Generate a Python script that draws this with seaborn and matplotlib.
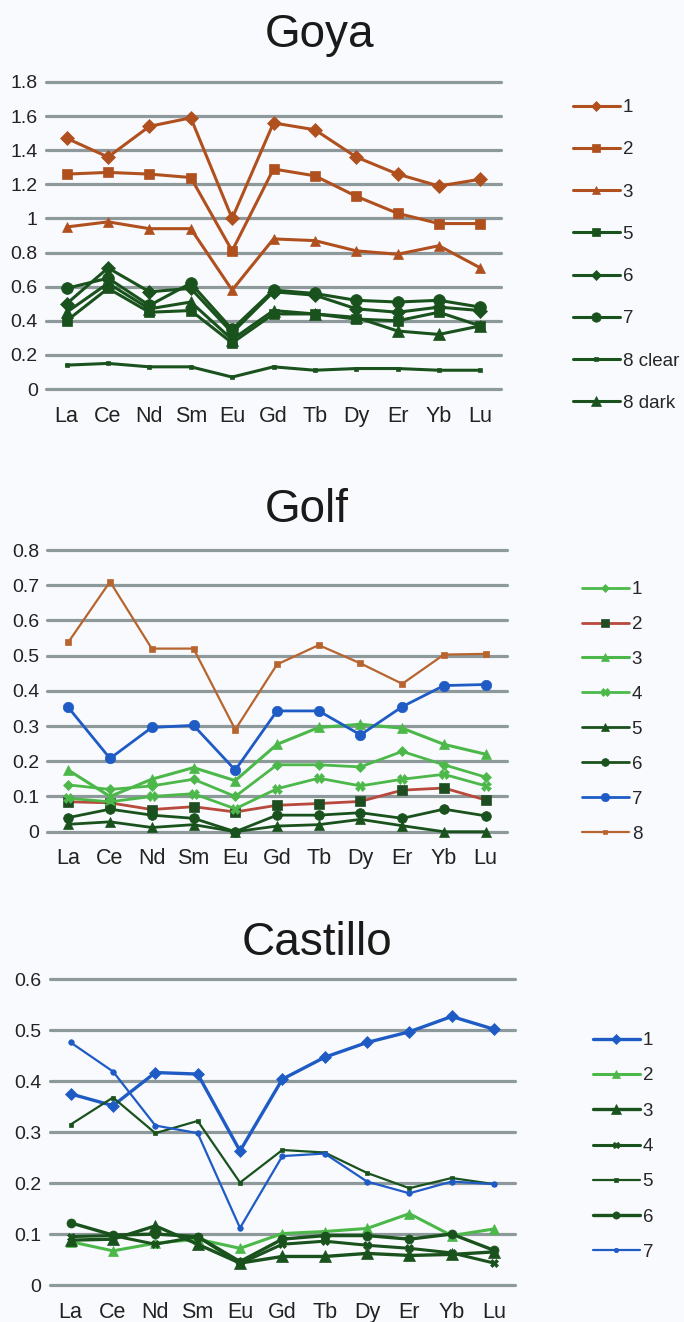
import numpy as np
import pandas as pd
import matplotlib
matplotlib.use("Agg")
import matplotlib.pyplot as plt
import seaborn as sns

sns.set_theme(style="white")
plt.rcParams["font.family"] = ["Liberation Sans", "DejaVu Sans"]

# Rare earth elements on the x axis
elements = ["La", "Ce", "Nd", "Sm", "Eu", "Gd", "Tb", "Dy", "Er", "Yb", "Lu"]

# ---- Goya ----
goya_labels = ["1", "2", "3", "5", "6", "7", "8 clear", "8 dark"]
goya_1 = [1.47, 1.36, 1.54, 1.59, 1.00, 1.56, 1.52, 1.36, 1.26, 1.19, 1.23]
goya_2 = [1.26, 1.27, 1.26, 1.24, 0.81, 1.29, 1.25, 1.13, 1.03, 0.97, 0.97]
goya_3 = [0.95, 0.98, 0.94, 0.94, 0.58, 0.88, 0.87, 0.81, 0.79, 0.84, 0.71]
goya_5 = [0.40, 0.59, 0.45, 0.46, 0.27, 0.44, 0.44, 0.41, 0.40, 0.45, 0.37]
goya_6 = [0.50, 0.71, 0.57, 0.59, 0.33, 0.57, 0.55, 0.47, 0.45, 0.48, 0.46]
goya_7 = [0.59, 0.65, 0.49, 0.62, 0.35, 0.58, 0.56, 0.52, 0.51, 0.52, 0.48]
goya_8c = [0.14, 0.15, 0.13, 0.13, 0.07, 0.13, 0.11, 0.12, 0.12, 0.11, 0.11]
goya_8d = [0.45, 0.62, 0.47, 0.51, 0.29, 0.46, 0.44, 0.42, 0.34, 0.32, 0.37]

# ---- Golf ----
golf_labels = ["1", "2", "3", "4", "5", "6", "7", "8"]
golf_1 = [0.133, 0.120, 0.130, 0.149, 0.100, 0.190, 0.190, 0.184, 0.228, 0.190, 0.155]
golf_2 = [0.085, 0.082, 0.063, 0.071, 0.056, 0.075, 0.080, 0.086, 0.118, 0.124, 0.090]
golf_3 = [0.175, 0.100, 0.149, 0.182, 0.145, 0.248, 0.296, 0.305, 0.294, 0.248, 0.220]
golf_4 = [0.095, 0.085, 0.100, 0.108, 0.065, 0.122, 0.152, 0.130, 0.149, 0.163, 0.130]
golf_5 = [0.021, 0.028, 0.012, 0.020, 0.000, 0.016, 0.020, 0.035, 0.017, 0.000, 0.000]
golf_6 = [0.040, 0.064, 0.047, 0.038, 0.000, 0.047, 0.047, 0.054, 0.038, 0.064, 0.045]
golf_7 = [0.353, 0.208, 0.296, 0.302, 0.175, 0.343, 0.343, 0.275, 0.355, 0.415, 0.418]
golf_8 = [0.538, 0.710, 0.520, 0.520, 0.290, 0.475, 0.530, 0.478, 0.420, 0.503, 0.505]

# ---- Castillo ----
cast_labels = ["1", "2", "3", "4", "5", "6", "7"]
cast_1 = [0.375, 0.352, 0.417, 0.414, 0.263, 0.404, 0.447, 0.476, 0.497, 0.527, 0.502]
cast_2 = [0.085, 0.067, 0.082, 0.090, 0.072, 0.101, 0.105, 0.111, 0.140, 0.097, 0.110]
cast_3 = [0.088, 0.090, 0.116, 0.080, 0.043, 0.056, 0.056, 0.062, 0.058, 0.060, 0.065]
cast_4 = [0.095, 0.097, 0.080, 0.095, 0.042, 0.080, 0.086, 0.078, 0.072, 0.063, 0.043]
cast_5 = [0.315, 0.368, 0.298, 0.322, 0.201, 0.265, 0.260, 0.220, 0.190, 0.210, 0.198]
cast_6 = [0.122, 0.098, 0.100, 0.095, 0.046, 0.090, 0.097, 0.097, 0.090, 0.100, 0.068]
cast_7 = [0.476, 0.419, 0.313, 0.298, 0.112, 0.253, 0.258, 0.203, 0.180, 0.203, 0.198]

# Colours
BROWN = "#b0501f"
BROWN2 = "#b8642f"
DKGREEN = "#1a521d"
LTGREEN = "#4cb84a"
RED = "#b8493c"
BLUE = "#1f5bc4"
GRID = "#8e999c"
BG = "#f9fafd"

W, H = 684, 1322
fig = plt.figure(figsize=(W / 100, H / 100), dpi=100, facecolor=BG)


def make_axes(left, right, top, bottom):
    return fig.add_axes([left / W, 1 - bottom / H, (right - left) / W, (bottom - top) / H])


def style_axes(ax, yticks, ylabels):
    ax.set_facecolor(BG)
    ax.set_xlim(-0.5, len(elements) - 0.5)
    ax.set_ylim(yticks[0], yticks[-1])
    ax.set_yticks(yticks)
    ax.set_yticklabels(ylabels)
    ax.set_xticks(np.arange(len(elements)))
    ax.set_xticklabels(elements)
    for s in ax.spines.values():
        s.set_visible(False)
    for y in yticks:
        ax.axhline(y, color=GRID, lw=2.3, zorder=0.5, clip_on=False)
    ax.tick_params(axis="y", length=0, pad=6, labelsize=14, labelcolor="#222222")
    ax.tick_params(axis="x", length=0, pad=12, labelsize=15.5, labelcolor="#222222")
    ax.set_xlabel("")
    ax.set_ylabel("")


def draw(ax, values, label, color, marker, ms, lw, mfc=None):
    xs = np.arange(len(elements))
    sns.lineplot(x=xs, y=values, ax=ax, color=color, lw=lw, marker=marker,
                 markersize=ms, markerfacecolor=mfc or color, markeredgecolor=mfc or color,
                 markeredgewidth=0.5, label=label, clip_on=False, zorder=3,
                 legend=False)


def add_legend(ax, x, y, spacing):
    handles = ax.get_lines()
    handles = [h for h in handles if h.get_label() and not h.get_label().startswith("_")]
    fig.legend(handles=handles, labels=[h.get_label() for h in handles],
               loc="upper left", bbox_to_anchor=(x / W, 1 - y / H),
               frameon=False, fontsize=13.5, handlelength=2.5, handletextpad=0.15,
               labelspacing=spacing, borderpad=0, borderaxespad=0, markerscale=0.8)


# ---- Goya panel ----
ax1 = make_axes(46, 501, 82, 389)
draw(ax1, goya_1, "1", BROWN, "D", 7, 2.2)
draw(ax1, goya_2, "2", BROWN, "s", 7.5, 2.2)
draw(ax1, goya_3, "3", BROWN, "^", 7.5, 2.2)
draw(ax1, goya_5, "5", DKGREEN, "s", 7.5, 2.2)
draw(ax1, goya_6, "6", DKGREEN, "D", 7, 2.2)
draw(ax1, goya_7, "7", DKGREEN, "o", 8.5, 2.2)
draw(ax1, goya_8c, "8 clear", DKGREEN, "s", 3, 2.2)
draw(ax1, goya_8d, "8 dark", DKGREEN, "^", 8.5, 2.2)
style_axes(ax1, [0, 0.2, 0.4, 0.6, 0.8, 1.0, 1.2, 1.4, 1.6, 1.8],
           ["0", "0.2", "0.4", "0.6", "0.8", "1", "1.2", "1.4", "1.6", "1.8"])
add_legend(ax1, 573, 99, 1.34)
fig.text(320, H - 47, "Goya", transform=None, ha="center", va="baseline",
         fontsize=33, color="#1a1a1a")

# ---- Golf panel ----
ax2 = make_axes(47.4, 506.6, 550, 831.7)
draw(ax2, golf_1, "1", LTGREEN, "D", 5.5, 2.0)
draw(ax2, golf_2, "2", RED, "s", 7.5, 2.0, mfc="#1f4d22")
draw(ax2, golf_3, "3", LTGREEN, "^", 7.5, 2.2)
draw(ax2, golf_4, "4", LTGREEN, "X", 7, 2.0)
draw(ax2, golf_5, "5", DKGREEN, "^", 7, 2.0)
draw(ax2, golf_6, "6", DKGREEN, "o", 7, 2.0)
draw(ax2, golf_7, "7", BLUE, "o", 7.5, 2.0)
draw(ax2, golf_8, "8", BROWN2, "s", 4, 1.6)
style_axes(ax2, [0, 0.1, 0.2, 0.3, 0.4, 0.5, 0.6, 0.7, 0.8],
           ["0", "0.1", "0.2", "0.3", "0.4", "0.5", "0.6", "0.7", "0.8"])
add_legend(ax2, 582, 581, 0.95)
fig.text(307, H - 522, "Golf", transform=None, ha="center", va="baseline",
         fontsize=33, color="#1a1a1a")

# ---- Castillo panel ----
ax3 = make_axes(49.5, 515.2, 979.3, 1285)
draw(ax3, cast_1, "1", BLUE, "D", 6, 2.4)
draw(ax3, cast_2, "2", LTGREEN, "^", 7.5, 2.2)
draw(ax3, cast_3, "3", DKGREEN, "^", 8.5, 2.4)
draw(ax3, cast_4, "4", DKGREEN, "X", 6, 2.2)
draw(ax3, cast_5, "5", DKGREEN, "s", 3, 1.6)
draw(ax3, cast_6, "6", DKGREEN, "o", 6.5, 2.4)
draw(ax3, cast_7, "7", BLUE, "o", 4, 1.6)
style_axes(ax3, [0, 0.1, 0.2, 0.3, 0.4, 0.5, 0.6],
           ["0", "0.1", "0.2", "0.3", "0.4", "0.5", "0.6"])
add_legend(ax3, 593, 1032, 0.97)
fig.text(317, H - 955, "Castillo", transform=None, ha="center", va="baseline",
         fontsize=33, color="#1a1a1a")

fig.savefig("out.png", dpi=100, facecolor=BG)
